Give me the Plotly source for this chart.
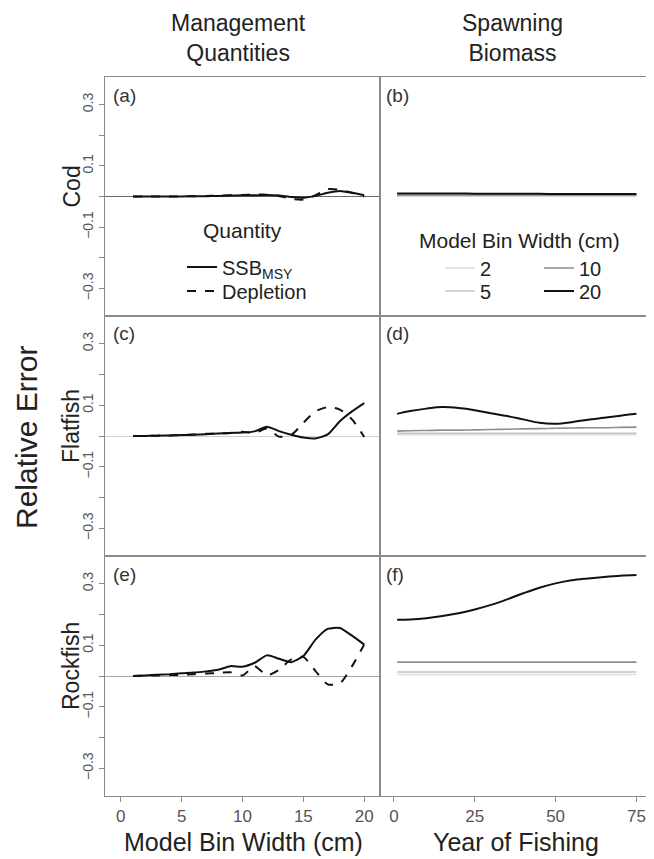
import plotly.graph_objects as go

# ---------------- data ----------------
bin_width = list(range(1, 21))

cod_ssbmsy   = [0, 0, 0, 0, 0, 0.001, 0.001, 0.002, 0.003, 0.004, 0.004, 0.005, 0.003, -0.002, -0.004, 0.002, 0.012, 0.018, 0.012, 0.004]
cod_depl     = [0, 0, 0, 0, 0, 0.001, 0.002, 0.003, 0.004, 0.005, 0.006, 0.006, 0.002, -0.008, -0.010, 0.004, 0.024, 0.022, 0.012, 0.000]
flat_ssbmsy  = [0, 0, 0.001, 0.002, 0.003, 0.004, 0.006, 0.008, 0.010, 0.011, 0.015, 0.030, 0.016, 0.004, -0.005, -0.008, 0.005, 0.048, 0.080, 0.107]
flat_depl    = [0, 0, 0.001, 0.002, 0.003, 0.005, 0.007, 0.008, 0.010, 0.014, 0.010, 0.024, -0.002, 0.003, 0.043, 0.080, 0.094, 0.086, 0.054, -0.003]
rock_ssbmsy  = [0, 0.002, 0.004, 0.006, 0.009, 0.011, 0.015, 0.020, 0.032, 0.030, 0.043, 0.067, 0.056, 0.045, 0.065, 0.118, 0.153, 0.156, 0.131, 0.102]
rock_depl    = [0, 0.001, 0.002, 0.003, 0.004, 0.006, 0.008, 0.010, 0.012, 0.002, 0.032, 0.002, 0.020, 0.054, 0.062, 0.016, -0.027, -0.024, 0.032, 0.102]

years = [1, 5, 10, 15, 20, 25, 30, 35, 40, 45, 50, 55, 60, 65, 70, 75]
bin_labels = ["2", "5", "10", "20"]

cod_sb = {
    "2":  [0.002] * 16,
    "5":  [0.003] * 16,
    "10": [0.005] * 16,
    "20": [0.010, 0.010, 0.010, 0.010, 0.010, 0.009, 0.009, 0.009, 0.009, 0.009, 0.008, 0.008, 0.008, 0.008, 0.008, 0.008],
}
flat_sb = {
    "2":  [0.004] * 16,
    "5":  [0.009] * 16,
    "10": [0.016, 0.017, 0.018, 0.019, 0.019, 0.020, 0.021, 0.022, 0.023, 0.024, 0.025, 0.026, 0.027, 0.027, 0.028, 0.029],
    "20": [0.072, 0.081, 0.089, 0.094, 0.091, 0.084, 0.074, 0.065, 0.054, 0.043, 0.040, 0.045, 0.053, 0.059, 0.066, 0.072],
}
rock_sb = {
    "2":  [0.005] * 16,
    "5":  [0.013] * 16,
    "10": [0.045] * 16,
    "20": [0.183, 0.184, 0.188, 0.195, 0.204, 0.216, 0.231, 0.249, 0.269, 0.287, 0.301, 0.311, 0.317, 0.322, 0.326, 0.328],
}

x_ticks_left = [0, 5, 10, 15, 20]
x_ticks_right = [0, 25, 50, 75]

species = ["Cod", "Flatfish", "Rockfish"]
panel_letters = ["(a)", "(b)", "(c)", "(d)", "(e)", "(f)"]

# ---------------- styles / geometry ----------------
OFF = 8                      # default page body margin
W, H = 654 - 2 * OFF, 859 - OFF
FONT = "Liberation Sans, Arial, sans-serif"
TXT = "#222222"
bin_colors = {"2": "#dedede", "5": "#c4c4c4", "10": "#8e8e8e", "20": "#111111"}
frame_col = "#8a8a8a"
zero_cols = ["#6a6a6a", "#cfcfcf", "#a6a6a6"]

def px_x(p):
    return (p - OFF) / W

def px_y(p):
    return 1 - (p - OFF) / H

left_dom = [px_x(105), px_x(380)]
right_dom = [px_x(380), px_x(645.5)]
row_px = [(77, 316), (316, 556), (556, 796)]

# legend entry placement (reference pixels: left x of legend box, centre y of entry)
leg_pos = {
    "SSB<sub>MSY</sub>": ("legend", 182, 267),
    "Depletion": ("legend2", 182, 291),
    "2": ("legend3", 440, 268),
    "5": ("legend4", 440, 291),
    "10": ("legend5", 539, 268),
    "20": ("legend6", 539, 291),
}

fig = go.Figure()

left_data = [(cod_ssbmsy, cod_depl), (flat_ssbmsy, flat_depl), (rock_ssbmsy, rock_depl)]
right_data = [cod_sb, flat_sb, rock_sb]

for r in range(3):
    ax_l = 2 * r + 1
    ax_r = 2 * r + 2
    xl = "x" if ax_l == 1 else f"x{ax_l}"
    yl = "y" if ax_l == 1 else f"y{ax_l}"
    xr = f"x{ax_r}"
    yr = f"y{ax_r}"
    ssb, depl = left_data[r]
    fig.add_trace(go.Scatter(x=bin_width, y=ssb, mode="lines", xaxis=xl, yaxis=yl,
                             line=dict(color="#111111", width=2, shape="spline", smoothing=0.6),
                             name="SSB<sub>MSY</sub>", legend=leg_pos["SSB<sub>MSY</sub>"][0],
                             showlegend=(r == 0)))
    fig.add_trace(go.Scatter(x=bin_width, y=depl, mode="lines", xaxis=xl, yaxis=yl,
                             line=dict(color="#111111", width=2, dash="dash", shape="spline", smoothing=0.6),
                             name="Depletion", legend=leg_pos["Depletion"][0], showlegend=(r == 0)))
    for b in bin_labels:
        fig.add_trace(go.Scatter(x=years, y=right_data[r][b], mode="lines", xaxis=xr, yaxis=yr,
                                 line=dict(color=bin_colors[b], width=2 if b == "20" else 1.6, shape="spline"),
                                 name=b, legend=leg_pos[b][0], showlegend=(r == 0)))

layout = dict(
    width=W, height=H,
    margin=dict(l=0, r=0, t=0, b=0),
    paper_bgcolor="white", plot_bgcolor="white",
    font=dict(family=FONT, color=TXT),
)

tickfont_y = dict(family=FONT, size=14, color="#555555")
tickfont_x = dict(family=FONT, size=17, color="#555555")

for r in range(3):
    top, bot = row_px[r]
    ydom = [px_y(bot), px_y(top)]
    for c in range(2):
        idx = 2 * r + c + 1
        xk = "xaxis" if idx == 1 else f"xaxis{idx}"
        yk = "yaxis" if idx == 1 else f"yaxis{idx}"
        xa = dict(domain=left_dom if c == 0 else right_dom,
                  anchor="y" if idx == 1 else f"y{idx}",
                  range=[-1.3, 21.3] if c == 0 else [-4.3, 77.8],
                  showline=True, mirror=True, linecolor=frame_col, linewidth=1,
                  showgrid=False, zeroline=False)
        if r == 2:
            xa.update(tickmode="array", tickvals=x_ticks_left if c == 0 else x_ticks_right,
                      ticks="outside", ticklen=5, tickcolor=frame_col, tickfont=tickfont_x,
                      showticklabels=True)
        else:
            xa.update(showticklabels=False, ticks="")
        ya = dict(domain=ydom, anchor="x" if idx == 1 else f"x{idx}",
                  range=[-0.39, 0.39],
                  showline=True, mirror=True, linecolor=frame_col, linewidth=1,
                  showgrid=False)
        if c == 0:
            ya.update(tickmode="linear", tick0=0.1, dtick=0.2, tickformat=".1f",
                      ticks="outside", ticklen=5, tickcolor=frame_col, tickangle=-90,
                      tickfont=tickfont_y,
                      minor=dict(dtick=0.1, tick0=0, ticks="outside", ticklen=5, tickcolor=frame_col, showgrid=False),
                      zeroline=True, zerolinecolor=zero_cols[r], zerolinewidth=1)
        else:
            ya.update(showticklabels=False, ticks="", zeroline=False)
        layout[xk] = xa
        layout[yk] = ya

legend_font = dict(family=FONT, size=20, color=TXT)
for name, (lk, lx, ly) in leg_pos.items():
    layout[lk] = dict(x=px_x(lx), y=px_y(ly), xanchor="left", yanchor="middle",
                      bgcolor="rgba(0,0,0,0)", font=legend_font, borderwidth=0)

fig.update_layout(**layout)

def ann(text, xp, yp, size, angle=0, xanchor="center", color=TXT):
    return dict(text=text, x=px_x(xp), y=px_y(yp), xref="paper", yref="paper",
                xanchor=xanchor, yanchor="middle", showarrow=False, textangle=angle,
                font=dict(family=FONT, size=size, color=color))

annots = []
annots.append(ann("Management<br>Quantities", 238, 38, 23))
annots.append(ann("Spawning<br>Biomass", 512, 38, 23))
annots.append(ann("Quantity", 242, 230, 21))
annots.append(ann("Model Bin Width (cm)", 519, 240, 21))
for r, sp in enumerate(species):
    top, bot = row_px[r]
    annots.append(ann(sp, 71, (top + bot) / 2 - 10, 23, angle=-90))
annots.append(ann("Relative Error", 27, 438, 30, angle=-90))
annots.append(ann("Model Bin Width (cm)", 243, 842, 25))
annots.append(ann("Year of Fishing", 516, 842, 25))
for i, lab in enumerate(panel_letters):
    r, c = divmod(i, 2)
    top, _ = row_px[r]
    xpx = 111 if c == 0 else 384
    annots.append(ann(lab, xpx, top + 18, 19, xanchor="left", color="#333333"))

fig.update_layout(annotations=annots)
fig.write_html("out.html")
